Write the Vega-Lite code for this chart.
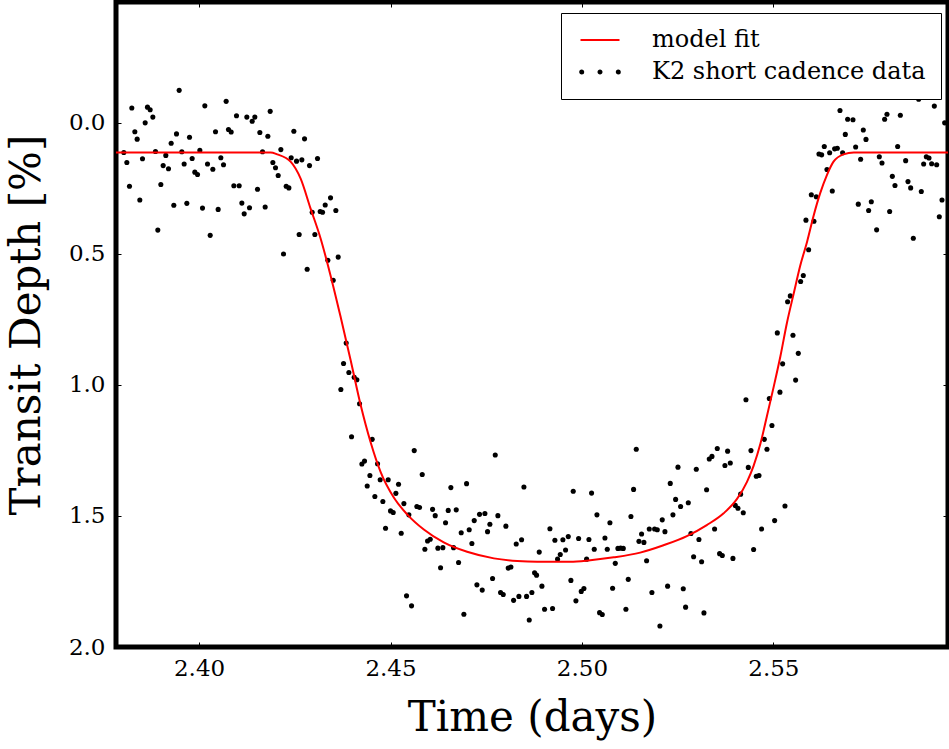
{
  "$schema": "https://vega.github.io/schema/vega-lite/v6.json",
  "width": 832,
  "height": 645,
  "autosize": {"type": "none"},
  "padding": {"left": 116, "top": 2, "right": 1, "bottom": 102},
  "background": "white",
  "config": {
    "view": {"stroke": "black", "strokeWidth": 5},
    "font": "DejaVu Serif",
    "axis": {
      "grid": false,
      "domain": false,
      "tickColor": "black",
      "tickWidth": 1,
      "tickSize": -5,
      "labelFont": "DejaVu Serif",
      "labelFontSize": 23,
      "labelColor": "black",
      "titleFont": "DejaVu Serif",
      "titleFontSize": 42,
      "titleFontWeight": "normal",
      "titleColor": "black"
    }
  },
  "datasets": {
    "obs": [
      {"t":2.38034,"d":0.114},{"t":2.38113,"d":0.152},{"t":2.38182,"d":0.243},{"t":2.38243,"d":-0.056},{"t":2.38322,"d":0.035},{"t":2.38383,"d":0.063},{"t":2.38452,"d":0.295},{"t":2.38522,"d":0.138},{"t":2.38592,"d":0.001},{"t":2.38652,"d":-0.059},{"t":2.38722,"d":-0.049},{"t":2.38792,"d":-0.021},{"t":2.38861,"d":0.110},{"t":2.38922,"d":0.410},{"t":2.39001,"d":0.236},{"t":2.39062,"d":0.164},{"t":2.39131,"d":0.125},{"t":2.39201,"d":0.176},{"t":2.39271,"d":0.079},{"t":2.39340,"d":0.315},{"t":2.39410,"d":0.043},{"t":2.39480,"d":-0.123},{"t":2.39549,"d":0.111},{"t":2.39610,"d":0.158},{"t":2.39680,"d":0.308},{"t":2.39750,"d":0.056},{"t":2.39819,"d":0.137},{"t":2.39889,"d":0.189},{"t":2.39959,"d":0.198},{"t":2.40020,"d":0.106},{"t":2.40089,"d":0.326},{"t":2.40150,"d":-0.064},{"t":2.40220,"d":0.158},{"t":2.40290,"d":0.430},{"t":2.40359,"d":0.178},{"t":2.40429,"d":0.035},{"t":2.40498,"d":0.331},{"t":2.40568,"d":0.134},{"t":2.40638,"d":0.161},{"t":2.40707,"d":-0.081},{"t":2.40768,"d":0.026},{"t":2.40838,"d":0.036},{"t":2.40908,"d":0.241},{"t":2.40977,"d":-0.026},{"t":2.41047,"d":0.241},{"t":2.41117,"d":0.307},{"t":2.41178,"d":0.348},{"t":2.41247,"d":-0.021},{"t":2.41317,"d":0.325},{"t":2.41387,"d":-0.005},{"t":2.41456,"d":-0.021},{"t":2.41526,"d":0.254},{"t":2.41587,"d":0.038},{"t":2.41657,"d":0.111},{"t":2.41726,"d":0.322},{"t":2.41796,"d":0.052},{"t":2.41857,"d":-0.043},{"t":2.41927,"d":0.152},{"t":2.41996,"d":0.172},{"t":2.42066,"d":0.202},{"t":2.42136,"d":0.103},{"t":2.42205,"d":0.501},{"t":2.42275,"d":0.243},{"t":2.42345,"d":0.249},{"t":2.42405,"d":0.134},{"t":2.42475,"d":0.033},{"t":2.42545,"d":0.147},{"t":2.42614,"d":0.427},{"t":2.42684,"d":0.142},{"t":2.42754,"d":0.062},{"t":2.42823,"d":0.559},{"t":2.42884,"d":0.164},{"t":2.42954,"d":0.342},{"t":2.43024,"d":0.427},{"t":2.43093,"d":0.137},{"t":2.43163,"d":0.339},{"t":2.43224,"d":0.342},{"t":2.43294,"d":0.314},{"t":2.43363,"d":0.525},{"t":2.43433,"d":0.287},{"t":2.43503,"d":0.601},{"t":2.43572,"d":0.335},{"t":2.43633,"d":0.513},{"t":2.43703,"d":1.018},{"t":2.43773,"d":0.919},{"t":2.43842,"d":0.841},{"t":2.43912,"d":0.953},{"t":2.43982,"d":1.198},{"t":2.44051,"d":0.971},{"t":2.44121,"d":0.981},{"t":2.44191,"d":1.072},{"t":2.44252,"d":1.302},{"t":2.44321,"d":1.291},{"t":2.44391,"d":1.386},{"t":2.44461,"d":1.346},{"t":2.44521,"d":1.208},{"t":2.44591,"d":1.426},{"t":2.44661,"d":1.301},{"t":2.44730,"d":1.362},{"t":2.44800,"d":1.445},{"t":2.44870,"d":1.547},{"t":2.44939,"d":1.362},{"t":2.45000,"d":1.481},{"t":2.45070,"d":1.487},{"t":2.45140,"d":1.414},{"t":2.45209,"d":1.379},{"t":2.45279,"d":1.566},{"t":2.45349,"d":1.453},{"t":2.45418,"d":1.805},{"t":2.45479,"d":1.496},{"t":2.45549,"d":1.843},{"t":2.45619,"d":1.251},{"t":2.45688,"d":1.464},{"t":2.45758,"d":1.468},{"t":2.45828,"d":1.342},{"t":2.45897,"d":1.627},{"t":2.45967,"d":1.596},{"t":2.46037,"d":1.589},{"t":2.46098,"d":1.475},{"t":2.46167,"d":1.499},{"t":2.46237,"d":1.623},{"t":2.46307,"d":1.698},{"t":2.46367,"d":1.621},{"t":2.46437,"d":1.526},{"t":2.46507,"d":1.479},{"t":2.46576,"d":1.392},{"t":2.46646,"d":1.621},{"t":2.46716,"d":1.477},{"t":2.46777,"d":1.678},{"t":2.46846,"d":1.564},{"t":2.46916,"d":1.875},{"t":2.46986,"d":1.377},{"t":2.47055,"d":1.553},{"t":2.47125,"d":1.605},{"t":2.47186,"d":1.518},{"t":2.47256,"d":1.763},{"t":2.47325,"d":1.494},{"t":2.47395,"d":1.783},{"t":2.47465,"d":1.491},{"t":2.47534,"d":1.560},{"t":2.47595,"d":1.532},{"t":2.47665,"d":1.739},{"t":2.47735,"d":1.268},{"t":2.47804,"d":1.499},{"t":2.47874,"d":1.792},{"t":2.47944,"d":1.800},{"t":2.48013,"d":1.539},{"t":2.48074,"d":1.699},{"t":2.48144,"d":1.695},{"t":2.48214,"d":1.822},{"t":2.48283,"d":1.607},{"t":2.48353,"d":1.807},{"t":2.48423,"d":1.591},{"t":2.48484,"d":1.390},{"t":2.48553,"d":1.807},{"t":2.48623,"d":1.897},{"t":2.48692,"d":1.792},{"t":2.48762,"d":1.717},{"t":2.48814,"d":1.726},
      {"t":2.48884,"d":1.638},{"t":2.48954,"d":1.768},{"t":2.49023,"d":1.856},{"t":2.49163,"d":1.549},{"t":2.49232,"d":1.853},{"t":2.49293,"d":1.593},{"t":2.49363,"d":1.665},{"t":2.49433,"d":1.647},{"t":2.49502,"d":1.591},{"t":2.49572,"d":1.630},{"t":2.49642,"d":1.579},{"t":2.49711,"d":1.746},{"t":2.49772,"d":1.406},{"t":2.49842,"d":1.824},{"t":2.49912,"d":1.586},{"t":2.49981,"d":1.788},{"t":2.50051,"d":1.777},{"t":2.50121,"d":1.665},{"t":2.50182,"d":1.590},{"t":2.50251,"d":1.413},{"t":2.50321,"d":1.627},{"t":2.50391,"d":1.496},{"t":2.50460,"d":1.869},{"t":2.50530,"d":1.876},{"t":2.50600,"d":1.584},{"t":2.50661,"d":1.627},{"t":2.50730,"d":1.526},{"t":2.50800,"d":1.776},{"t":2.50870,"d":1.681},{"t":2.50939,"d":1.624},{"t":2.51009,"d":1.623},{"t":2.51079,"d":1.624},{"t":2.51148,"d":1.856},{"t":2.51209,"d":1.742},{"t":2.51279,"d":1.502},{"t":2.51348,"d":1.399},{"t":2.51418,"d":1.246},{"t":2.51488,"d":1.597},{"t":2.51557,"d":1.569},{"t":2.51618,"d":1.601},{"t":2.51688,"d":1.671},{"t":2.51758,"d":1.550},{"t":2.51827,"d":1.792},{"t":2.51897,"d":1.550},{"t":2.51967,"d":1.553},{"t":2.52036,"d":1.920},{"t":2.52097,"d":1.515},{"t":2.52167,"d":1.560},{"t":2.52237,"d":1.768},{"t":2.52306,"d":1.376},{"t":2.52376,"d":1.496},{"t":2.52446,"d":1.437},{"t":2.52507,"d":1.314},{"t":2.52576,"d":1.464},{"t":2.52646,"d":1.778},{"t":2.52707,"d":1.848},{"t":2.52777,"d":1.450},{"t":2.52846,"d":1.567},{"t":2.52916,"d":1.656},{"t":2.52986,"d":1.322},{"t":2.53055,"d":1.590},{"t":2.53125,"d":1.675},{"t":2.53186,"d":1.870},{"t":2.53255,"d":1.400},{"t":2.53325,"d":1.283},{"t":2.53395,"d":1.273},{"t":2.53464,"d":1.550},{"t":2.53534,"d":1.243},{"t":2.53595,"d":1.644},{"t":2.53665,"d":1.651},{"t":2.53734,"d":1.308},{"t":2.53804,"d":1.253},{"t":2.53874,"d":1.298},{"t":2.53943,"d":1.662},{"t":2.54004,"d":1.460},{"t":2.54074,"d":1.471},{"t":2.54144,"d":1.417},{"t":2.54213,"d":1.488},{"t":2.54283,"d":1.057},{"t":2.54344,"d":1.315},{"t":2.54414,"d":1.251},{"t":2.54483,"d":1.628},{"t":2.54553,"d":1.349},{"t":2.54623,"d":1.346},{"t":2.54692,"d":1.550},{"t":2.54762,"d":1.208},{"t":2.54832,"d":1.246},{"t":2.54893,"d":1.052},{"t":2.54962,"d":1.155},{"t":2.55032,"d":1.518},{"t":2.55102,"d":0.802},{"t":2.55171,"d":1.028},{"t":2.55241,"d":0.920},{"t":2.55302,"d":1.462},{"t":2.55371,"d":0.683},{"t":2.55441,"d":0.661},{"t":2.55511,"d":0.811},{"t":2.55580,"d":0.982},{"t":2.55650,"d":0.880},{"t":2.55711,"d":0.606},{"t":2.55781,"d":0.583},{"t":2.55850,"d":0.372},{"t":2.55920,"d":0.485},{"t":2.55990,"d":0.275},{"t":2.56059,"d":0.376},{"t":2.56120,"d":0.283},{"t":2.56190,"d":0.120},{"t":2.56260,"d":0.123},{"t":2.56329,"d":0.091},{"t":2.56399,"d":0.179},{"t":2.56469,"d":0.115},{"t":2.56538,"d":0.261},{"t":2.56599,"d":0.100},{"t":2.56669,"d":0.098},{"t":2.56739,"d":-0.046},{"t":2.56808,"d":0.115},{"t":2.56878,"d":0.045},{"t":2.56939,"d":-0.013},{"t":2.57078,"d":-0.011},{"t":2.57148,"d":0.093},{"t":2.57217,"d":0.311},{"t":2.57278,"d":0.140},{"t":2.57348,"d":0.028},{"t":2.57418,"d":0.064},{"t":2.57487,"d":0.335},{"t":2.57557,"d":0.302},{"t":2.57696,"d":0.409},{"t":2.57766,"d":0.130},{"t":2.57836,"d":0.154},{"t":2.57905,"d":-0.013},{"t":2.57966,"d":-0.032},{"t":2.58036,"d":0.339},{"t":2.58106,"d":0.205},{"t":2.58175,"d":0.240},{"t":2.58245,"d":0.091},{"t":2.58315,"d":-0.028},{"t":2.58454,"d":0.145},{"t":2.58515,"d":0.225},{"t":2.58585,"d":0.249},{"t":2.58654,"d":0.441},{"t":2.58794,"d":-0.089},{"t":2.58863,"d":0.263},{"t":2.58924,"d":0.158},{"t":2.58994,"d":0.130},{"t":2.59064,"d":0.135},{"t":2.59133,"d":0.157},{"t":2.59203,"d":-0.063},{"t":2.59264,"d":0.161},{"t":2.59333,"d":0.359},{"t":2.59403,"d":0.295},{"t":2.59473,"d":0.001}
    ],
    "model": [
      {"t":2.3783,"d":0.114},{"t":2.4187,"d":0.114},{"t":2.4204,"d":0.121},{"t":2.4239,"d":0.149},{"t":2.4265,"d":0.213},{"t":2.4291,"d":0.327},{"t":2.4317,"d":0.440},{"t":2.4343,"d":0.581},{"t":2.4369,"d":0.737},{"t":2.4396,"d":0.907},{"t":2.4422,"d":1.077},{"t":2.4448,"d":1.219},{"t":2.4474,"d":1.332},{"t":2.4509,"d":1.431},{"t":2.4544,"d":1.495},{"t":2.4587,"d":1.552},{"t":2.4639,"d":1.601},{"t":2.4700,"d":1.637},{"t":2.4770,"d":1.662},{"t":2.4831,"d":1.672},{"t":2.4883,"d":1.675},{"t":2.4969,"d":1.675},{"t":2.5022,"d":1.669},{"t":2.5083,"d":1.658},{"t":2.5152,"d":1.640},{"t":2.5213,"d":1.612},{"t":2.5274,"d":1.577},{"t":2.5326,"d":1.535},{"t":2.5370,"d":1.490},{"t":2.5405,"d":1.435},{"t":2.5431,"d":1.370},{"t":2.5448,"d":1.310},{"t":2.5466,"d":1.225},{"t":2.5483,"d":1.120},{"t":2.5501,"d":1.006},{"t":2.5518,"d":0.893},{"t":2.5535,"d":0.766},{"t":2.5553,"d":0.652},{"t":2.5570,"d":0.546},{"t":2.5588,"d":0.454},{"t":2.5605,"d":0.355},{"t":2.5622,"d":0.270},{"t":2.5640,"d":0.199},{"t":2.5657,"d":0.149},{"t":2.5683,"d":0.121},{"t":2.5710,"d":0.114},{"t":2.5956,"d":0.114}
    ]
  },
  "layer": [
    {
      "data": {"name": "obs"},
      "transform": [{"calculate": "'K2 short cadence data'", "as": "s"}],
      "mark": {"type": "point", "filled": true, "size": 26, "opacity": 1},
      "encoding": {
        "x": {"field": "t", "type": "quantitative",
          "scale": {"domain": [2.3783, 2.5956], "nice": false, "zero": false},
          "axis": {"orient": "bottom", "title": "Time (days)", "values": [2.4, 2.45, 2.5, 2.55], "format": ".2f", "labelPadding": 15, "titlePadding": 17}},
        "y": {"field": "d", "type": "quantitative",
          "scale": {"domain": [-0.46, 2.0], "reverse": true, "nice": false, "zero": false},
          "axis": {"orient": "left", "title": "Transit Depth [%]", "values": [0, 0.5, 1, 1.5, 2], "format": ".1f", "labelPadding": 16, "titlePadding": 20}},
        "color": {"field": "s", "type": "nominal",
          "scale": {"domain": ["model fit", "K2 short cadence data"], "range": ["#ff0000", "#000000"]},
          "legend": {
            "title": null, "orient": "none", "legendX": 445, "legendY": 11, "direction": "vertical",
            "padding": 15, "symbolOffset": 12, "symbolSize": 400, "labelOffset": 40, "labelLimit": 500,
            "symbolType": {"expr": "datum.value === 'model fit' ? 'M-1.95,0L1.95,0' : 'M-1.98,0A0.15,0.15,0,1,0,-1.68,0A0.15,0.15,0,1,0,-1.98,0ZM-0.15,0A0.15,0.15,0,1,0,0.15,0A0.15,0.15,0,1,0,-0.15,0ZM1.68,0A0.15,0.15,0,1,0,1.98,0A0.15,0.15,0,1,0,1.68,0Z'"},
            "symbolStrokeWidth": 2,
            "labelFont": "DejaVu Serif", "labelFontSize": 24, "labelColor": "black", "rowPadding": 8,
            "strokeColor": "black", "fillColor": "white", "cornerRadius": 0
          }}
      }
    },
    {
      "data": {"name": "model"},
      "transform": [{"calculate": "'model fit'", "as": "s"}],
      "mark": {"type": "line", "strokeWidth": 2, "interpolate": "monotone"},
      "encoding": {
        "x": {"field": "t", "type": "quantitative", "axis": {"orient": "top", "labels": false, "title": null, "values": [2.4, 2.45, 2.5, 2.55]}},
        "y": {"field": "d", "type": "quantitative", "axis": {"orient": "right", "labels": false, "title": null, "values": [0, 0.5, 1, 1.5, 2]}},
        "color": {"field": "s", "type": "nominal"}
      }
    }
  ],
  "resolve": {"axis": {"x": "independent", "y": "independent"}}
}
